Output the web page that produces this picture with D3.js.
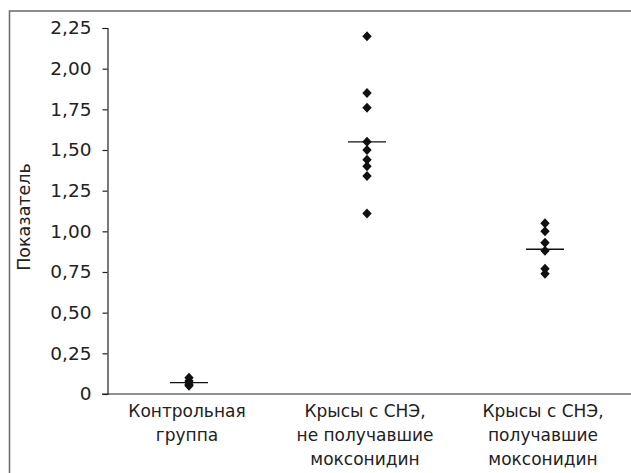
<!DOCTYPE html>
<html><head><meta charset="utf-8">
<script src="https://cdn.jsdelivr.net/npm/d3@7"></script>
<style>body{margin:0;background:#fff}svg{display:block}</style>
</head><body>
<script>
const categories = [["Контрольная","группа"],["Крысы с СНЭ,","не получавшие","моксонидин"],["Крысы с СНЭ,","получавшие","моксонидин"]];
const group1 = [0.10, 0.08, 0.06, 0.05];
const group2 = [2.20, 1.85, 1.76, 1.55, 1.50, 1.44, 1.40, 1.34, 1.11];
const group3 = [1.05, 1.00, 0.93, 0.88, 0.77, 0.74];
const means = [0.07, 1.55, 0.89];
const yTicks = [0, 0.25, 0.5, 0.75, 1.0, 1.25, 1.5, 1.75, 2.0, 2.25];
const yTitle = "Показатель";
const groups = [group1, group2, group3];

const W = 631, H = 473;
const svg = d3.select("body").append("svg").attr("width", W).attr("height", H);
const font = "'DejaVu Sans', sans-serif";

// outer frame
svg.append("rect").attr("x", 9.5).attr("y", 11).attr("width", 700).attr("height", 600)
  .attr("fill", "none").attr("stroke", "#707070").attr("stroke-width", 1.6);

const y = d3.scaleLinear().domain([0, 2.25]).range([394, 28]);
const x = d3.scaleBand().domain(d3.range(categories.length)).range([100, 634]);
const x0 = 107.5;

const fmt = v => v === 0 ? "0" : d3.format(".2f")(v).replace(".", ",");
const yAxis = d3.axisLeft(y).tickValues(yTicks).tickFormat(fmt).tickSize(5).tickPadding(11);
const gy = svg.append("g").attr("transform", `translate(${x0},0)`).call(yAxis);
gy.select(".domain").attr("stroke", "#222").attr("stroke-width", 1.2);
gy.selectAll(".tick line").attr("stroke", "#222").attr("stroke-width", 1.2);
gy.selectAll(".tick text").attr("font-family", font).attr("font-size", 18.5).attr("fill", "#222");

// x axis line
svg.append("line").attr("x1", 102).attr("x2", W).attr("y1", y(0)).attr("y2", y(0))
  .attr("stroke", "#222").attr("stroke-width", 1.2);

// category labels
categories.forEach((lines, i) => {
  const t = svg.append("text").attr("text-anchor", "middle")
    .attr("font-family", font).attr("font-size", 17).attr("fill", "#222");
  lines.forEach((l, j) => {
    t.append("tspan").attr("x", x(i) + x.bandwidth() / 2 - 2).attr("y", 417 + j * 24).text(l);
  });
});

// y title
svg.append("text").attr("transform", `translate(30,217) rotate(-90)`)
  .attr("text-anchor", "middle").attr("font-family", font).attr("font-size", 17.5)
  .attr("fill", "#222").text(yTitle);

// points
const diamond = "M0,-5L4.7,0L0,5L-4.7,0Z";
groups.forEach((g, i) => {
  const cx = x(i) + x.bandwidth() / 2;
  svg.append("g").selectAll("path").data(g).join("path")
    .attr("d", diamond).attr("transform", d => `translate(${cx},${y(d)})`).attr("fill", "#111");
  svg.append("line").attr("x1", cx - 19).attr("x2", cx + 19)
    .attr("y1", y(means[i])).attr("y2", y(means[i])).attr("stroke", "#111").attr("stroke-width", 1.3);
});
</script>
</body></html>
